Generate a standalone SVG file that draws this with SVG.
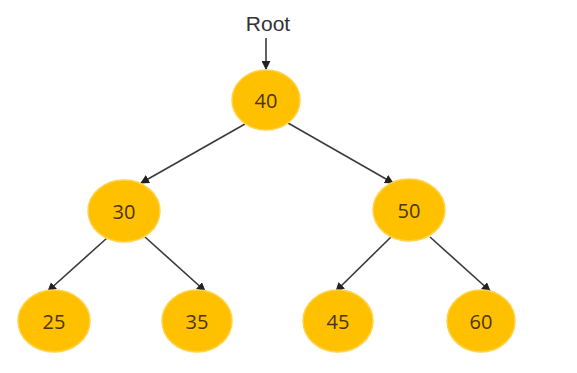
<svg xmlns="http://www.w3.org/2000/svg" width="577" height="373" viewBox="0 0 577 373">
<style>
.node ellipse{fill:#FFC000;stroke:#FFD24D;stroke-width:1.5}
.node text{font-family:"Open Sans","Liberation Sans",Arial,sans-serif;font-size:20px;fill:#4a3500;text-anchor:middle;dominant-baseline:central}
.edge{stroke:#3a3a3a;stroke-width:1.6;fill:none;marker-end:url(#ah)}
.lbl{font-family:"Liberation Sans",Arial,sans-serif;font-size:21px;fill:#333;text-anchor:middle}
</style>
<defs>
<marker id="ah" viewBox="0 0 10 10" refX="9" refY="5" markerWidth="9" markerHeight="9" markerUnits="userSpaceOnUse" orient="auto">
<path d="M0,0 L10,5 L0,10 z" fill="#222"/>
</marker>
</defs>
<rect width="577" height="373" fill="#fff"/>
<text class="lbl" x="268" y="31">Root</text>
<g id="connectors">
<line class="edge" x1="266" y1="38" x2="266" y2="69"/>
<line class="edge" x1="245" y1="124" x2="141" y2="183"/>
<line class="edge" x1="288" y1="123" x2="393" y2="183"/>
<line class="edge" x1="107" y1="238" x2="48" y2="291"/>
<line class="edge" x1="145" y1="237" x2="205" y2="291"/>
<line class="edge" x1="391" y1="237" x2="336" y2="291"/>
<line class="edge" x1="430" y1="237" x2="490" y2="291"/>
</g>
<g id="n40" class="node"><ellipse cx="266" cy="100" rx="34" ry="30"/><text x="266" y="100">40</text></g>
<g id="n30" class="node"><ellipse cx="124" cy="211" rx="36" ry="31"/><text x="124" y="211">30</text></g>
<g id="n50" class="node"><ellipse cx="409" cy="210" rx="36" ry="31"/><text x="409" y="210">50</text></g>
<g id="n25" class="node"><ellipse cx="54" cy="321" rx="36" ry="31"/><text x="54" y="321">25</text></g>
<g id="n35" class="node"><ellipse cx="197" cy="321" rx="35" ry="31"/><text x="197" y="321">35</text></g>
<g id="n45" class="node"><ellipse cx="338" cy="321" rx="35" ry="31"/><text x="338" y="321">45</text></g>
<g id="n60" class="node"><ellipse cx="481" cy="321" rx="34" ry="31"/><text x="481" y="321">60</text></g>
</svg>
